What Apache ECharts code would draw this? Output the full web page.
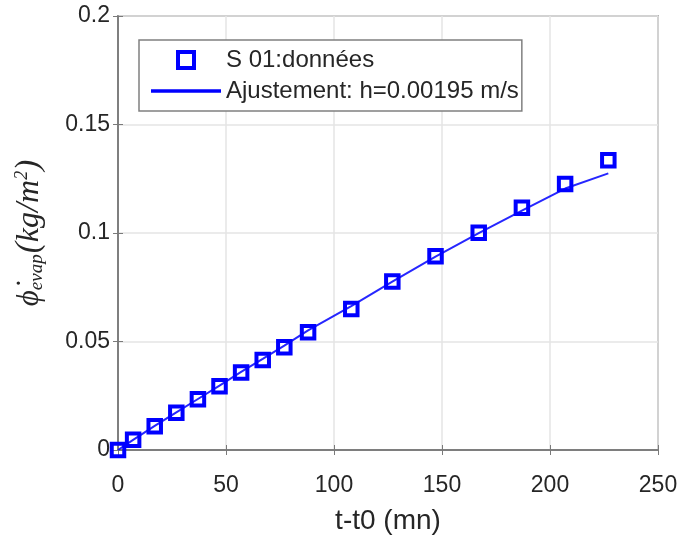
<!DOCTYPE html>
<html>
<head>
<meta charset="utf-8">
<script src="https://cdn.jsdelivr.net/npm/echarts@6/dist/echarts.min.js"></script>
<style>html,body{margin:0;padding:0;background:#fff;}#c{width:682px;height:540px;}</style>
</head>
<body>
<div id="c"></div>
<script>
// ---- data ----
const timeMin = [0, 7, 17, 27, 37, 47, 57, 67, 77, 88, 108, 127, 147, 167, 187, 207, 227];
const fluxData = [0, 0.0047, 0.0110, 0.0172, 0.0234, 0.0294, 0.0357, 0.0415, 0.0473, 0.0543, 0.0650, 0.0777, 0.0893, 0.1001, 0.1116, 0.1226, 0.1335];
const fluxFit  = [0, 0.0047, 0.0111, 0.0173, 0.0235, 0.0297, 0.0360, 0.0420, 0.0481, 0.0551, 0.0663, 0.0776, 0.0891, 0.0999, 0.1103, 0.1205, 0.1275];
const xTicks = [0, 50, 100, 150, 200, 250];
const yTicks = [0, 0.05, 0.1, 0.15, 0.2];
const seriesNames = ['S 01:données', 'Ajustement: h=0.00195 m/s'];
const xTitle = 't-t0 (mn)';

const chart = echarts.init(document.getElementById('c'), null, {renderer: 'canvas'});
const axisCol = '#7a7a7a';
const textCol = '#262626';
const gridCol = '#e4e4e4';
const blue = '#0000ff';

const commonX = {
  type: 'value', min: xTicks[0], max: xTicks[xTicks.length - 1], interval: xTicks[1] - xTicks[0]
};
const commonY = {
  type: 'value', min: yTicks[0], max: yTicks[yTicks.length - 1], interval: yTicks[1] - yTicks[0]
};

chart.setOption({
  animation: false,
  backgroundColor: '#fff',
  grid: {left: 118, right: 24, top: 16, bottom: 89, show: true, borderColor: axisCol, borderWidth: 1.5, backgroundColor: 'transparent'},
  legend: {
    orient: 'vertical', left: 139, top: 40,
    padding: [8, 3, 8, 12],
    itemWidth: 70, itemHeight: 16, itemGap: 7,
    borderColor: '#808080', borderWidth: 1.5, backgroundColor: '#fff',
    textStyle: {fontFamily: 'Liberation Sans', fontSize: 24, color: textCol},
    data: [
      {name: seriesNames[0], icon: 'path://M0,0L10,0L10,10L0,10Z', itemStyle: {color: 'transparent', borderColor: blue, borderWidth: 4}},
      {name: seriesNames[1], icon: 'path://M0,0L70,0L70,3.5L0,3.5Z', itemStyle: {color: blue, borderWidth: 0}}
    ]
  },
  xAxis: [
    Object.assign({}, commonX, {
      position: 'bottom',
      name: xTitle, nameLocation: 'middle', nameGap: 57,
      nameTextStyle: {fontFamily: 'Liberation Sans', fontSize: 28, color: textCol},
      axisLine: {show: true, lineStyle: {color: axisCol, width: 1.5}},
      axisTick: {show: true, inside: true, length: 5, lineStyle: {color: axisCol}},
      axisLabel: {fontFamily: 'Liberation Sans', fontSize: 23, color: textCol, margin: 24},
      splitLine: {show: true, lineStyle: {color: gridCol, width: 1.5}}
    }),
    Object.assign({}, commonX, {
      position: 'top',
      axisLine: {show: true, lineStyle: {color: axisCol, width: 1.5}},
      axisTick: {show: true, inside: true, length: 5, lineStyle: {color: axisCol}},
      axisLabel: {show: false}, splitLine: {show: false}
    })
  ],
  yAxis: [
    Object.assign({}, commonY, {
      position: 'left',
      name: '{phi|ϕ̇}{sub|evap}{p|(}{it|kg}{p|/}{it|m}{sup|2}{p|)}',
      nameLocation: 'middle', nameRotate: 90, nameGap: 72,
      nameTextStyle: {
        color: textCol, fontFamily: 'Liberation Serif', fontStyle: 'italic', fontSize: 30,
        rich: {
          phi: {fontFamily: 'Liberation Serif', fontStyle: 'italic', fontSize: 31, color: textCol},
          sub: {fontFamily: 'Liberation Serif', fontStyle: 'italic', fontSize: 19, color: textCol, verticalAlign: 'bottom', padding: [0, 1, 0, 0]},
          p:   {fontFamily: 'Liberation Serif', fontSize: 33, color: textCol},
          it:  {fontFamily: 'Liberation Serif', fontStyle: 'italic', fontSize: 32, color: textCol},
          sup: {fontFamily: 'Liberation Serif', fontStyle: 'italic', fontSize: 18, color: textCol, verticalAlign: 'top'}
        }
      },
      axisLine: {show: true, lineStyle: {color: axisCol, width: 1.5}},
      axisTick: {show: true, inside: true, length: 5, lineStyle: {color: axisCol}},
      axisLabel: {fontFamily: 'Liberation Sans', fontSize: 23, color: textCol, margin: 8},
      splitLine: {show: true, lineStyle: {color: gridCol, width: 1.5}}
    }),
    Object.assign({}, commonY, {
      position: 'right',
      axisLine: {show: true, lineStyle: {color: axisCol, width: 1.5}},
      axisTick: {show: true, inside: true, length: 5, lineStyle: {color: axisCol}},
      axisLabel: {show: false}, splitLine: {show: false}
    })
  ],
  series: [
    {
      name: seriesNames[0], type: 'scatter', xAxisIndex: 0, yAxisIndex: 0,
      symbol: 'rect', symbolSize: 12.5, clip: false, z: 3,
      itemStyle: {color: 'transparent', borderColor: blue, borderWidth: 4, opacity: 1},
      data: timeMin.map((t, i) => [t, fluxData[i]])
    },
    {
      name: seriesNames[1], type: 'line', xAxisIndex: 0, yAxisIndex: 0,
      showSymbol: false, symbol: 'none', z: 4,
      lineStyle: {color: blue, width: 2, opacity: 0.85},
      itemStyle: {color: blue},
      data: timeMin.map((t, i) => [t, fluxFit[i]])
    }
  ]
});
</script>
</body>
</html>
